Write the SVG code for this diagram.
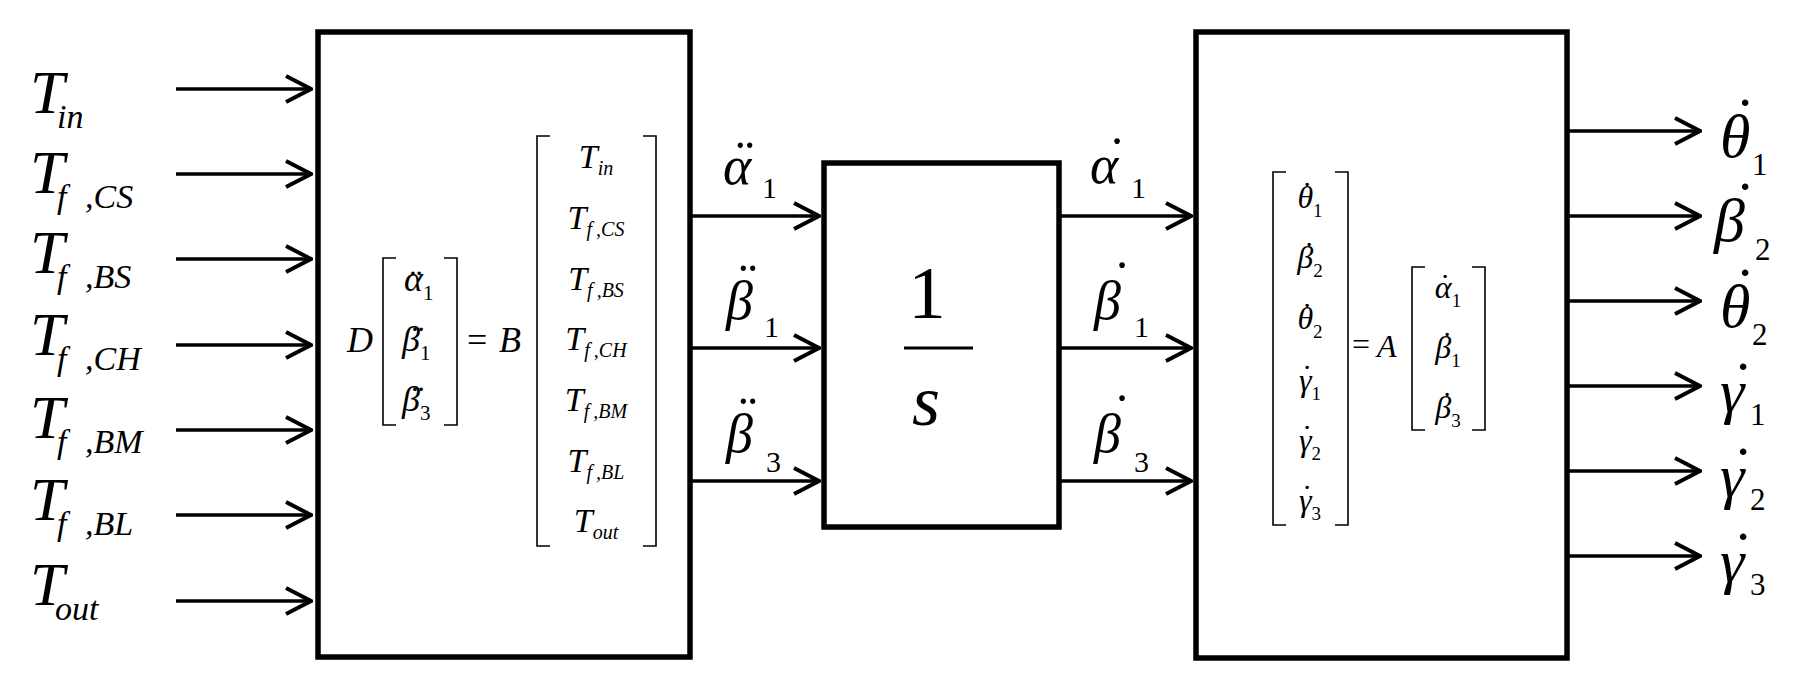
<svg xmlns="http://www.w3.org/2000/svg" width="1808" height="684" viewBox="0 0 1808 684">
<defs>
<marker id="arr" markerUnits="userSpaceOnUse" viewBox="-30 -16 32 32" markerWidth="32" markerHeight="32" refX="0" refY="0" orient="auto">
<path d="M-25,-13 L0,0 L-25,13" fill="none" stroke="#000" stroke-width="4"/>
</marker>
</defs>
<rect width="1808" height="684" fill="#fff"/>

<g id="box_dynamics" fill="#000">
<rect x="318" y="32" width="372" height="625" fill="#fff" stroke="#000" stroke-width="5.5"/>
<path d="M396,258 H383 V425 H396 M444,258 H457 V425 H444 M550,136 H537 V546 H550 M643,136 H656 V546 H643" fill="none" stroke="#000" stroke-width="1.6"/>
<text font-family="Liberation Serif" font-size="36" font-style="italic" x="347" y="352">D</text>
<text font-family="Liberation Serif" font-size="36" font-style="italic" x="404" y="291">α<tspan font-style="normal" font-size="21" dy="9">1</tspan></text>
<text font-family="Liberation Serif" font-size="36" x="416" y="294" text-anchor="middle">¨</text>
<text font-family="Liberation Serif" font-size="36" font-style="italic" x="402" y="351">β<tspan font-style="normal" font-size="21" dy="9">1</tspan></text>
<text font-family="Liberation Serif" font-size="36" x="418" y="350" text-anchor="middle">¨</text>
<text font-family="Liberation Serif" font-size="36" font-style="italic" x="402" y="411">β<tspan font-style="normal" font-size="21" dy="9">3</tspan></text>
<text font-family="Liberation Serif" font-size="36" x="418" y="410" text-anchor="middle">¨</text>
<text font-family="Liberation Serif" font-size="36" x="467" y="352">=</text>
<text font-family="Liberation Serif" font-size="36" font-style="italic" x="499" y="352">B</text>
<text font-family="Liberation Serif" font-size="34" font-style="italic" text-anchor="middle" x="596" y="168">T<tspan font-size="20" dy="7">in</tspan></text>
<text font-family="Liberation Serif" font-size="34" font-style="italic" text-anchor="middle" x="596" y="229">T<tspan font-size="20" dy="7">f</tspan><tspan font-size="20" dx="4">,CS</tspan></text>
<text font-family="Liberation Serif" font-size="34" font-style="italic" text-anchor="middle" x="596" y="290">T<tspan font-size="20" dy="7">f</tspan><tspan font-size="20" dx="4">,BS</tspan></text>
<text font-family="Liberation Serif" font-size="34" font-style="italic" text-anchor="middle" x="596" y="350">T<tspan font-size="20" dy="7">f</tspan><tspan font-size="20" dx="4">,CH</tspan></text>
<text font-family="Liberation Serif" font-size="34" font-style="italic" text-anchor="middle" x="596" y="411">T<tspan font-size="20" dy="7">f</tspan><tspan font-size="20" dx="4">,BM</tspan></text>
<text font-family="Liberation Serif" font-size="34" font-style="italic" text-anchor="middle" x="596" y="472">T<tspan font-size="20" dy="7">f</tspan><tspan font-size="20" dx="4">,BL</tspan></text>
<text font-family="Liberation Serif" font-size="34" font-style="italic" text-anchor="middle" x="596" y="532">T<tspan font-size="20" dy="7">out</tspan></text>
</g>

<g id="box_integrator" fill="#000">
<rect x="824" y="163" width="235" height="364" fill="#fff" stroke="#000" stroke-width="5.5"/>
<text font-family="Liberation Serif" font-size="75" x="927" y="318" text-anchor="middle">1</text>
<line x1="904" y1="348" x2="973" y2="348" stroke="#000" stroke-width="3"/>
<text font-family="Liberation Serif" font-style="italic" font-size="72" x="926" y="425" text-anchor="middle">s</text>
</g>

<g id="box_kinematics" fill="#000">
<rect x="1196" y="32" width="371" height="626" fill="#fff" stroke="#000" stroke-width="5.5"/>
<path d="M1286,172 H1273 V525 H1286 M1335,172 H1348 V525 H1335 M1425,267 H1412 V430 H1425 M1472,267 H1485 V430 H1472" fill="none" stroke="#000" stroke-width="1.6"/>
<text font-family="Liberation Serif" font-size="32" text-anchor="middle" font-style="italic" x="1310" y="208">θ<tspan font-style="normal" font-size="19" dy="9">1</tspan></text>
<text font-family="Liberation Serif" font-size="32" text-anchor="middle" x="1307" y="204">˙</text>
<text font-family="Liberation Serif" font-size="32" text-anchor="middle" font-style="italic" x="1310" y="268">β<tspan font-style="normal" font-size="19" dy="9">2</tspan></text>
<text font-family="Liberation Serif" font-size="32" text-anchor="middle" x="1309" y="264">˙</text>
<text font-family="Liberation Serif" font-size="32" text-anchor="middle" font-style="italic" x="1310" y="329">θ<tspan font-style="normal" font-size="19" dy="9">2</tspan></text>
<text font-family="Liberation Serif" font-size="32" text-anchor="middle" x="1307" y="325">˙</text>
<text font-family="Liberation Serif" font-size="32" text-anchor="middle" font-style="italic" x="1310" y="391">γ<tspan font-style="normal" font-size="19" dy="9">1</tspan></text>
<text font-family="Liberation Serif" font-size="32" text-anchor="middle" x="1307" y="387">˙</text>
<text font-family="Liberation Serif" font-size="32" text-anchor="middle" font-style="italic" x="1310" y="451">γ<tspan font-style="normal" font-size="19" dy="9">2</tspan></text>
<text font-family="Liberation Serif" font-size="32" text-anchor="middle" x="1307" y="447">˙</text>
<text font-family="Liberation Serif" font-size="32" text-anchor="middle" font-style="italic" x="1310" y="511">γ<tspan font-style="normal" font-size="19" dy="9">3</tspan></text>
<text font-family="Liberation Serif" font-size="32" text-anchor="middle" x="1307" y="507">˙</text>
<text font-family="Liberation Serif" font-size="32" x="1352" y="355">=</text>
<text font-family="Liberation Serif" font-size="32" font-style="italic" x="1377" y="357">A</text>
<text font-family="Liberation Serif" font-size="32" text-anchor="middle" font-style="italic" x="1448" y="298">α<tspan font-style="normal" font-size="19" dy="9">1</tspan></text>
<text font-family="Liberation Serif" font-size="32" text-anchor="middle" x="1445" y="296">˙</text>
<text font-family="Liberation Serif" font-size="32" text-anchor="middle" font-style="italic" x="1448" y="358">β<tspan font-style="normal" font-size="19" dy="9">1</tspan></text>
<text font-family="Liberation Serif" font-size="32" text-anchor="middle" x="1447" y="354">˙</text>
<text font-family="Liberation Serif" font-size="32" text-anchor="middle" font-style="italic" x="1448" y="418">β<tspan font-style="normal" font-size="19" dy="9">3</tspan></text>
<text font-family="Liberation Serif" font-size="32" text-anchor="middle" x="1447" y="414">˙</text>
</g>

<g id="connectors" fill="none" stroke="#000" stroke-width="3.5" marker-end="url(#arr)">
<line x1="176" y1="89" x2="311" y2="89"/>
<line x1="176" y1="174" x2="311" y2="174"/>
<line x1="176" y1="259" x2="311" y2="259"/>
<line x1="176" y1="345" x2="311" y2="345"/>
<line x1="176" y1="430" x2="311" y2="430"/>
<line x1="176" y1="515" x2="311" y2="515"/>
<line x1="176" y1="601" x2="311" y2="601"/>
<line x1="692" y1="216" x2="819" y2="216"/>
<line x1="692" y1="348" x2="819" y2="348"/>
<line x1="692" y1="481" x2="819" y2="481"/>
<line x1="1061" y1="216" x2="1191" y2="216"/>
<line x1="1061" y1="348" x2="1191" y2="348"/>
<line x1="1061" y1="481" x2="1191" y2="481"/>
<line x1="1569" y1="131" x2="1700" y2="131"/>
<line x1="1569" y1="216" x2="1700" y2="216"/>
<line x1="1569" y1="301" x2="1700" y2="301"/>
<line x1="1569" y1="386" x2="1700" y2="386"/>
<line x1="1569" y1="471" x2="1700" y2="471"/>
<line x1="1569" y1="556" x2="1700" y2="556"/>
</g>

<g id="inputs" fill="#000">
<text font-family="Liberation Serif" font-size="62" font-style="italic" x="30" y="113">T<tspan font-size="34" x="57" y="128">in</tspan></text>
<text font-family="Liberation Serif" font-size="62" font-style="italic" x="30" y="193">T<tspan font-size="34" x="57" y="208">f</tspan><tspan font-size="34" x="85" y="208">,CS</tspan></text>
<text font-family="Liberation Serif" font-size="62" font-style="italic" x="30" y="273">T<tspan font-size="34" x="57" y="288">f</tspan><tspan font-size="34" x="85" y="288">,BS</tspan></text>
<text font-family="Liberation Serif" font-size="62" font-style="italic" x="30" y="355">T<tspan font-size="34" x="57" y="370">f</tspan><tspan font-size="34" x="85" y="370">,CH</tspan></text>
<text font-family="Liberation Serif" font-size="62" font-style="italic" x="30" y="438">T<tspan font-size="34" x="57" y="453">f</tspan><tspan font-size="34" x="85" y="453">,BM</tspan></text>
<text font-family="Liberation Serif" font-size="62" font-style="italic" x="30" y="520">T<tspan font-size="34" x="57" y="535">f</tspan><tspan font-size="34" x="85" y="535">,BL</tspan></text>
<text font-family="Liberation Serif" font-size="62" font-style="italic" x="30" y="605">T<tspan font-size="34" x="55" y="620">out</tspan></text>
</g>

<g id="accel_labels" fill="#000">
<text font-family="Liberation Serif" font-size="54" font-style="italic" x="723" y="184">α<tspan font-style="normal" font-size="30" x="762" y="198">1</tspan></text>
<text font-family="Liberation Serif" font-size="54" x="745" y="177" text-anchor="middle">¨</text>
<text font-family="Liberation Serif" font-size="54" font-style="italic" x="726" y="319">β<tspan font-style="normal" font-size="30" x="764" y="337">1</tspan></text>
<text font-family="Liberation Serif" font-size="54" x="748" y="300" text-anchor="middle">¨</text>
<text font-family="Liberation Serif" font-size="54" font-style="italic" x="726" y="452">β<tspan font-style="normal" font-size="30" x="766" y="472">3</tspan></text>
<text font-family="Liberation Serif" font-size="54" x="748" y="433" text-anchor="middle">¨</text>
</g>

<g id="rate_labels" fill="#000">
<text font-family="Liberation Serif" font-size="54" font-style="italic" x="1090" y="183">α<tspan font-style="normal" font-size="30" x="1131" y="198">1</tspan></text>
<text font-family="Liberation Serif" font-size="54" x="1117" y="175" text-anchor="middle">˙</text>
<text font-family="Liberation Serif" font-size="54" font-style="italic" x="1094" y="319">β<tspan font-style="normal" font-size="30" x="1134" y="337">1</tspan></text>
<text font-family="Liberation Serif" font-size="54" x="1122" y="299" text-anchor="middle">˙</text>
<text font-family="Liberation Serif" font-size="54" font-style="italic" x="1094" y="452">β<tspan font-style="normal" font-size="30" x="1134" y="472">3</tspan></text>
<text font-family="Liberation Serif" font-size="54" x="1122" y="432" text-anchor="middle">˙</text>
</g>

<g id="outputs" fill="#000">
<text font-family="Liberation Serif" font-size="62" font-style="italic" x="1720" y="157">θ<tspan font-style="normal" font-size="31" x="1752" y="175">1</tspan></text>
<text font-family="Liberation Serif" font-size="62" x="1745" y="140" text-anchor="middle">˙</text>
<text font-family="Liberation Serif" font-size="62" font-style="italic" x="1714" y="241">β<tspan font-style="normal" font-size="31" x="1755" y="260">2</tspan></text>
<text font-family="Liberation Serif" font-size="62" x="1745" y="224" text-anchor="middle">˙</text>
<text font-family="Liberation Serif" font-size="62" font-style="italic" x="1720" y="327">θ<tspan font-style="normal" font-size="31" x="1752" y="345">2</tspan></text>
<text font-family="Liberation Serif" font-size="62" x="1745" y="310" text-anchor="middle">˙</text>
<text font-family="Liberation Serif" font-size="62" font-style="italic" x="1720" y="412">γ<tspan font-style="normal" font-size="31" x="1750" y="425">1</tspan></text>
<text font-family="Liberation Serif" font-size="62" x="1743" y="404" text-anchor="middle">˙</text>
<text font-family="Liberation Serif" font-size="62" font-style="italic" x="1720" y="497">γ<tspan font-style="normal" font-size="31" x="1750" y="510">2</tspan></text>
<text font-family="Liberation Serif" font-size="62" x="1743" y="489" text-anchor="middle">˙</text>
<text font-family="Liberation Serif" font-size="62" font-style="italic" x="1720" y="582">γ<tspan font-style="normal" font-size="31" x="1750" y="595">3</tspan></text>
<text font-family="Liberation Serif" font-size="62" x="1743" y="574" text-anchor="middle">˙</text>
</g>
</svg>
